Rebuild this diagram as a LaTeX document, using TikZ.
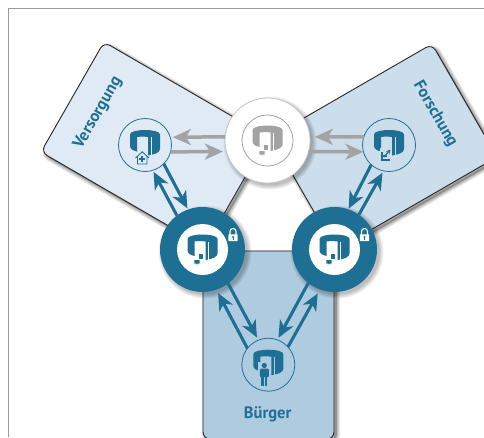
\documentclass[tikz,border=0pt]{standalone}
\usepackage{fontspec}
\setmainfont{PT Sans}
\usetikzlibrary{arrows.meta}
\definecolor{teal1}{HTML}{1D7094}
\definecolor{grayA}{HTML}{A3A3A3}
\definecolor{pV}{HTML}{DFEAF4}
\definecolor{pF}{HTML}{CCDEEB}
\definecolor{pB}{HTML}{AFCBE0}
\definecolor{frameC}{HTML}{9A9A9A}
\tikzset{
  panel/.style={draw=black!85,line width=0.9pt,rounded corners=7pt},
  bigdisc/.style={circle,inner sep=0pt,outer sep=0pt,minimum size=85pt},
  smalldisc/.style={circle,inner sep=0pt,outer sep=0pt,minimum size=53pt,draw=teal1,line width=0.8pt},
  innerwhite/.style={circle,inner sep=0pt,outer sep=0pt,minimum size=51pt,fill=white},
  innergray/.style={circle,inner sep=0pt,outer sep=0pt,minimum size=51pt,draw=grayA,line width=0.8pt},
  tealarrow/.style={draw=teal1,line width=3.1pt,-{Stealth[length=17pt,width=15pt,inset=5pt]}},
  grayarrow/.style={draw=grayA,line width=3.5pt,-{Stealth[length=18pt,width=16pt,inset=5pt]}},
  panellabel/.style={text=teal1,font=\bfseries\fontsize{16.5}{18}\selectfont,inner sep=0pt},
}
% soft shadow: stacked translucent strokes of a path, offset to the lower right
\newcommand\softshadow[1]{%
  \foreach \w in {1,2.5,4,5.5,7}{
    \path[draw=black,draw opacity=0.07,fill=black,fill opacity=0.05,line width=\w pt,shift={(2.5,2.5)},rounded corners=7pt] #1;
  }}
\newcommand\discshadow[1]{%
  \foreach \r in {42.5,43.5,44.5,45.5,46.5}{
    \fill[black,opacity=0.055,shift={(2.5,2.5)}] #1 circle (\r);
  }}
% gate icon, local coordinates around the scope's origin
\newcommand\gateicon[2]{%
  \fill[#1] (-15,-10.5) .. controls (-15,-16.5) and (15,-16.5) .. (15,-10.5)
     -- (15,4) .. controls (15,7.5) and (10,9.5) .. (3,10.5)
     -- (3,-8) .. controls (-1,-8.5) and (-4,-8.5) .. (-8,-8)
     -- (-8,6.5) .. controls (-12,5.5) and (-15,4) .. (-15,1) -- cycle;
  \draw[#2,line width=1.2pt] (6.2,-8) -- (6.2,10.5);
}
\newcommand\bubbles[2]{%
  \fill[#1,draw=#2,line width=0.7pt] (-4.5,3.5) rectangle (1,9.5);
  \fill[#1,draw=#2,line width=0.7pt] (-8.5,10) -- (-2.5,10) -- (-2.5,14.5) -- (-4.5,14.5) -- (-5.5,16.5) -- (-6.5,14.5) -- (-8.5,14.5) -- cycle;
}
\newcommand\lockicon{%
  \draw[white,line width=1.1pt] (-3,0) -- (-3,-3.5) .. controls (-3,-7.5) and (3,-7.5) .. (3,-3.5) -- (3,0);
  \fill[white,rounded corners=0.5pt] (-4.7,-0.7) rectangle (4.7,6);
  \fill[teal1] (0,2) circle (1.1);
  \fill[teal1] (-0.5,2) rectangle (0.5,4.7);
}
\begin{document}
\begin{tikzpicture}[x=1pt,y=-1pt]
\useasboundingbox (0,0) rectangle (484,437);
\clip (0,0) rectangle (484,437);
\fill[white] (0,0) rectangle (484,437);
\draw[frameC,line width=1.2pt] (8.5,437) -- (8.5,8.5) -- (484,8.5);

% panels
\softshadow{(104,42) -- (41,152) -- (205,247) -- (268,137) -- cycle}
\path[panel,fill=pV] (104,42) -- (41,152) -- (205,247) -- (268,137) -- cycle;
\softshadow{(432,44) -- (497,157) -- (336,250) -- (271,137) -- cycle}
\path[panel,fill=pF] (432,44) -- (497,157) -- (336,250) -- (271,137) -- cycle;
\softshadow{(203,251) -- (203,439) -- (334,439) -- (334,251) -- cycle}
\path[panel,fill=pB] (203,251) -- (203,439) -- (334,439) -- (334,251) -- cycle;

\node[panellabel,rotate=60] (lV) at (98,113) {Versorgung};
\node[panellabel,rotate=-60] (lF) at (435,114) {Forschung};
\node[panellabel] (lB) at (267.7,414) {Bürger};

% big discs
\discshadow{(267.5,140.5)}
\discshadow{(202.5,249.5)}
\discshadow{(334.5,249.5)}
\node[bigdisc,fill=white,draw=black!22,line width=0.8pt] (zen) at (267.5,140.5) {};
\node[bigdisc,fill=teal1] (dl) at (202.5,249.5) {};
\node[bigdisc,fill=teal1] (dr) at (334.5,249.5) {};
\node[innerwhite] (dli) at (202.5,249.5) {};
\node[innerwhite] (dri) at (334.5,249.5) {};
\node[innergray] (zeni) at (267.5,140.5) {};

% small discs
\node[smalldisc] (vers) at (145,145) {};
\node[smalldisc] (fors) at (389,145) {};
\node[smalldisc] (buer) at (268.3,364.7) {};

% connectors
\draw[grayarrow,shorten >=2.5pt] (zen.175) -- (vers.17);
\draw[grayarrow,shorten >=3.5pt] (vers.-15) -- (zen.195.7);
\draw[grayarrow,shorten >=5pt] (fors.162.5) -- (zen.5);
\draw[grayarrow] (zen.-15.7) -- (fors.195);

\draw[tealarrow,shorten >=1.7pt] (dl.127) -- (vers.-73.5);
\draw[tealarrow,shorten >=1.3pt] (vers.-45) -- (dl.110.7);
\draw[tealarrow,shorten >=0.7pt] (fors.228) -- (dr.71.8);
\draw[tealarrow,shorten >=2pt] (dr.55) -- (fors.258);
\draw[tealarrow,shorten >=3.8pt] (buer.142) -- (dl.-71.8);
\draw[tealarrow,shorten >=3pt] (dl.-53) -- (buer.112);
\draw[tealarrow,shorten >=2.3pt] (dr.232) -- (buer.70.7);
\draw[tealarrow,shorten >=4.5pt] (buer.42) -- (dr.-110.6);

% icons
\begin{scope}[shift={(dl.center)}] \gateicon{teal1}{white} \bubbles{teal1}{white} \end{scope}
\begin{scope}[shift={(dr.center)}] \gateicon{teal1}{white} \bubbles{teal1}{white} \end{scope}
\begin{scope}[shift={(zen.center)}] \gateicon{grayA}{white} \bubbles{grayA}{white} \end{scope}
\begin{scope}[shift={(233,235)}] \lockicon \end{scope}
\begin{scope}[shift={(364.5,235)}] \lockicon \end{scope}

\begin{scope}[shift={(vers.center)}]
  \gateicon{teal1}{pV}
  \fill[pV] (-2.7,5.5) -- (-11,13.5) -- (-8.5,20.5) -- (3.5,20.5) -- (5.5,13.5) -- cycle;
  \draw[teal1,line width=0.9pt,line join=miter] (-9.5,13) -- (-2.7,6.8) -- (4,13) (-7.5,11.5) -- (-7.5,19) -- (2,19) -- (2,11.5);
  \fill[teal1] (-3.7,10.5) rectangle (-1.7,16.5);
  \fill[teal1] (-5.7,12.5) rectangle (0.3,14.5);
\end{scope}
\begin{scope}[shift={(fors.center)}]
  \gateicon{teal1}{pF}
  \fill[pF] (-9.5,3) rectangle (2.5,17);
  \draw[teal1,line width=1.6pt] (-7,7) -- (-7,15.2) -- (1,15.2) (-7,11) -- (-2,11);
  \draw[teal1,line width=1.2pt,-{Stealth[length=4.5pt,width=4.5pt]}] (-5,12) -- (1.5,4.5);
\end{scope}
\begin{scope}[shift={(buer.center)}]
  \gateicon{teal1}{pB}
  \fill[pB] (-10,-2.5) rectangle (2,21);
  \fill[teal1] (-4,0.8) circle (2.6);
  \fill[teal1,rounded corners=1pt] (-8.5,4) rectangle (0.5,12.5);
  \fill[teal1] (-7,10) rectangle (-4.4,21);
  \fill[teal1] (-3.6,10) rectangle (-1,21);
\end{scope}
\end{tikzpicture}
\end{document}
